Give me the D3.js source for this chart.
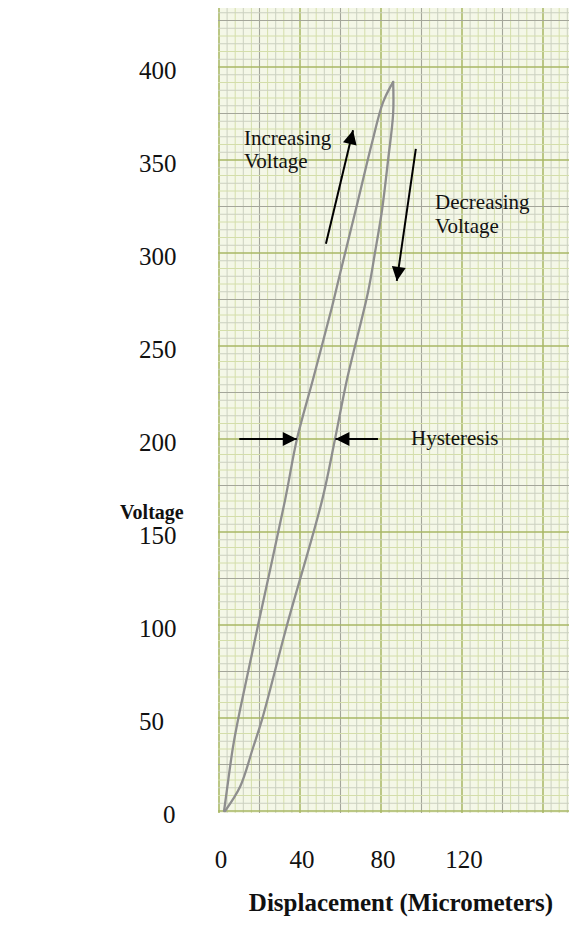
<!DOCTYPE html>
<html>
<head>
<meta charset="utf-8">
<script src="https://cdn.jsdelivr.net/npm/d3@7"></script>
<style>
  body { margin: 0; background: #fff; }
  text { font-family: "Liberation Serif", "Times New Roman", serif; fill: #111; }
</style>
</head>
<body>
<div id="chart"></div>
<script>
/* CONSTANTS AND GLOBALS */
const width = 569,
  height = 928;

/* DATA */
const xTicks = [0, 40, 80, 120];
const yTicks = [0, 50, 100, 150, 200, 250, 300, 350, 400];

// increasing voltage branch (left side of the loop)
const risingDisp = [2.5, 4, 7, 10.5, 19.3, 32.6, 38.5, 46.4, 55.8, 59.8, 68.6, 75.5, 81, 86];
const risingVolt = [0, 12, 35, 55, 100, 167, 200, 232, 271, 289, 328, 359, 381, 392];

// decreasing voltage branch (right side of the loop)
const fallingDisp = [86, 86, 83.5, 80.5, 77, 73.6, 63.2, 57.3, 50.9, 33.6, 21.2, 16.8, 10.4, 3];
const fallingVolt = [392, 375, 350, 323, 300, 279, 232, 200, 167, 100, 49, 34, 13, 0];

// arrows: [x1, v1, x2, v2] in data units, head at the second point
const arrowNames = ["increasing", "decreasing", "hystLeft", "hystRight"];
const arrowCoords = [
  [52.8, 305, 66.2, 366],
  [97.2, 356, 87.8, 285],
  [10, 200, 38.4, 200],
  [78.5, 200, 57.5, 200]
];

// annotation texts and their anchor points (data units)
const noteTexts = ["Increasing", "Voltage", "Decreasing", "Voltage", "Hysteresis"];
const noteDisp = [12.3, 12.3, 106.7, 106.7, 94.8];
const noteVolt = [358, 345.5, 323.5, 310.5, 197];

/* SCALES */
const xScale = d3.scaleLinear().domain([0, 160]).range([219, 543]);
const yScale = d3.scaleLinear().domain([0, 400]).range([811, 67]);

const paperLeft = 218, paperTop = 8, paperBottom = 813;

const svg = d3.select("#chart")
  .append("svg")
  .attr("width", width)
  .attr("height", height);

// graph paper background
svg.append("rect")
  .attr("x", paperLeft)
  .attr("y", paperTop)
  .attr("width", width - paperLeft)
  .attr("height", paperBottom - paperTop)
  .attr("fill", "#f4f7e7");

const grid = svg.append("g");

const minorColor = i => (i % 2 ? "#cbd0c0" : "#d4deaa");

// vertical lines: minor every 4, medium every 20, major every 40
const xMax = xScale.invert(width);
d3.range(0, xMax, 4).forEach((v, i) => {
  const major = i % 10 === 0, medium = i % 5 === 0;
  grid.append("line")
    .attr("x1", xScale(v)).attr("x2", xScale(v))
    .attr("y1", paperTop).attr("y2", paperBottom)
    .attr("stroke", major ? "#a9b765" : medium ? "#a4a69a" : minorColor(i))
    .attr("stroke-width", major ? 1.5 : medium ? 1.1 : 1);
});

// horizontal lines: 12 minor per 50 V, medium every 25, major every 50
const yMax = yScale.invert(paperTop);
d3.range(0, Math.floor(yMax / (50 / 12)) + 1).forEach(i => {
  const v = i * 50 / 12;
  const major = i % 12 === 0, medium = i % 6 === 0;
  grid.append("line")
    .attr("x1", paperLeft).attr("x2", width)
    .attr("y1", yScale(v)).attr("y2", yScale(v))
    .attr("stroke", major ? "#a9b765" : medium ? "#a4a69a" : minorColor(i))
    .attr("stroke-width", major ? 1.5 : medium ? 1.1 : 1);
});

// hysteresis loop
const line = d3.line()
  .x(d => xScale(d[0]))
  .y(d => yScale(d[1]))
  .curve(d3.curveCatmullRom.alpha(0.5));

const rising = risingDisp.map((d, i) => [d, risingVolt[i]]);
const falling = fallingDisp.map((d, i) => [d, fallingVolt[i]]);

[rising, falling].forEach(branch => {
  svg.append("path")
    .attr("d", line(branch))
    .attr("fill", "none")
    .attr("stroke", "#8e8e8e")
    .attr("stroke-width", 2.3)
    .attr("stroke-linecap", "round")
    .attr("stroke-linejoin", "round");
});

// arrows
svg.append("defs").append("marker")
  .attr("id", "head")
  .attr("viewBox", "0 0 10 10")
  .attr("refX", 10).attr("refY", 5)
  .attr("markerWidth", 16).attr("markerHeight", 14)
  .attr("markerUnits", "userSpaceOnUse")
  .attr("orient", "auto")
  .append("path")
  .attr("d", "M0,0 L10,5 L0,10 Z")
  .attr("fill", "#000");

svg.selectAll("line.arrow")
  .data(arrowCoords)
  .join("line")
  .attr("class", (d, i) => "arrow " + arrowNames[i])
  .attr("x1", d => xScale(d[0]))
  .attr("y1", d => yScale(d[1]))
  .attr("x2", d => xScale(d[2]))
  .attr("y2", d => yScale(d[3]))
  .attr("stroke", "#000")
  .attr("stroke-width", 2)
  .attr("marker-end", "url(#head)");

// annotation text
svg.selectAll("text.note")
  .data(noteTexts)
  .join("text")
  .attr("class", "note")
  .attr("x", (d, i) => xScale(noteDisp[i]))
  .attr("y", (d, i) => yScale(noteVolt[i]))
  .attr("font-size", 21)
  .text(d => d);

// y tick labels
svg.selectAll("text.ytick")
  .data(yTicks)
  .join("text")
  .attr("class", "ytick")
  .attr("x", d => d === 0 ? 163 : 139)
  .attr("y", d => yScale(d) + 12)
  .attr("font-size", 25)
  .text(d => d);

// x tick labels
svg.selectAll("text.xtick")
  .data(xTicks)
  .join("text")
  .attr("class", "xtick")
  .attr("x", d => xScale(d) + 2)
  .attr("y", 868)
  .attr("text-anchor", "middle")
  .attr("font-size", 25)
  .text(d => d);

// axis titles
svg.append("text")
  .attr("x", 120)
  .attr("y", 519)
  .attr("font-size", 20)
  .attr("font-weight", "bold")
  .text("Voltage");

svg.append("text")
  .attr("x", 401)
  .attr("y", 911)
  .attr("text-anchor", "middle")
  .attr("font-size", 25)
  .attr("font-weight", "bold")
  .text("Displacement (Micrometers)");
</script>
</body>
</html>
